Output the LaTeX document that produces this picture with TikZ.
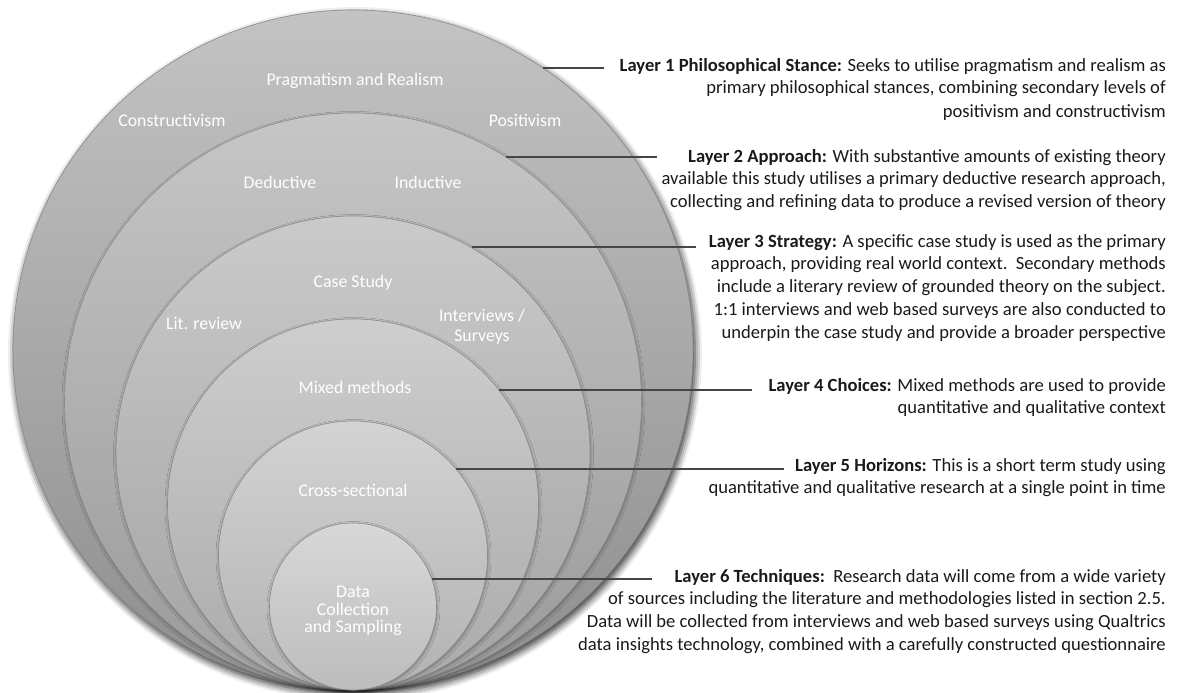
\documentclass[tikz,border=0pt]{standalone}
\usepackage{fontspec}
\setmainfont{Carlito}
\usetikzlibrary{shadows.blur}

% ring shades, outermost to innermost
\definecolor{g1t}{HTML}{C3C3C3}\definecolor{g1b}{HTML}{8E8E8E}
\definecolor{g2t}{HTML}{C6C6C6}\definecolor{g2b}{HTML}{9A9A9A}
\definecolor{g3t}{HTML}{CACACA}\definecolor{g3b}{HTML}{A3A3A3}
\definecolor{g4t}{HTML}{CECECE}\definecolor{g4b}{HTML}{AAAAAA}
\definecolor{g5t}{HTML}{D3D3D3}\definecolor{g5b}{HTML}{B2B2B2}
\definecolor{g6t}{HTML}{D8D8D8}\definecolor{g6b}{HTML}{BCBCBC}
\definecolor{ringedge}{HTML}{8A8A8A}
\definecolor{leadgray}{HTML}{454545}
\definecolor{desctext}{HTML}{1A1A1A}

\begin{document}
\begin{tikzpicture}[x=1pt,y=-1pt,
  ring/.style={circle, inner sep=0pt, draw=ringedge, line width=0.6pt,
    blur shadow={shadow xshift=0.5pt, shadow yshift=-1.5pt,
                 shadow blur radius=3pt, shadow opacity=35}},
  ringlabel/.style={text=white, font=\fontsize{17.8}{19}\selectfont,
    align=center, inner sep=0pt},
  desc/.style={anchor=north east, align=right, inner sep=0pt,
    text=desctext, font=\fontsize{18.6}{22.8}\selectfont},
  leader/.style={draw=leadgray, line width=2pt}]

\useasboundingbox (0,0) rectangle (1180,693);

% nested rings, all touching at the bottom
\node[ring, minimum size=680pt, top color=g1t, bottom color=g1b,
  blur shadow={shadow xshift=2pt, shadow yshift=-4pt,
               shadow blur radius=7pt, shadow opacity=50}] (c1) at (353,350) {};
\node[ring, minimum size=577pt, top color=g2t, bottom color=g2b] (c2) at (353,401.5) {};
\node[ring, minimum size=474pt, top color=g3t, bottom color=g3b] (c3) at (353,453) {};
\node[ring, minimum size=371pt, top color=g4t, bottom color=g4b] (c4) at (353,504.5) {};
\node[ring, minimum size=269pt, top color=g5t, bottom color=g5b] (c5) at (353,555.5) {};
\node[ring, minimum size=167pt, top color=g6t, bottom color=g6b] (c6) at (353,606.5) {};

% ring labels
\node[ringlabel] (pr)  at (355,81)  {Pragmatism and Realism};
\node[ringlabel] (con) at (172,120) {Constructivism};
\node[ringlabel] (pos) at (525,120) {Positivism};
\node[ringlabel] (ded) at (280,182) {Deductive};
\node[ringlabel] (ind) at (428,182) {Inductive};
\node[ringlabel] (cs)  at (353,283) {Case Study};
\node[ringlabel] (lit) at (204,323) {Lit. review};
\node[ringlabel, font=\fontsize{17.8}{20}\selectfont] (ivs) at (482,327) {Interviews /\\Surveys};
\node[ringlabel] (mm)  at (355,387) {Mixed methods};
\node[ringlabel] (xs)  at (353,490) {Cross-sectional};
\node[ringlabel, font=\fontsize{17.8}{17.5}\selectfont] (dcs) at (353,611) {Data\\Collection\\and Sampling};

% layer descriptions
\node[desc] (t1) at (1166,55) {\strut\textbf{Layer 1 Philosophical Stance:} Seeks to utilise pragmatism and realism as\\
  primary philosophical stances, combining secondary levels of\\[1pt]
  positivism and constructivism};
\node[desc] (t2) at (1166,146) {\strut\textbf{Layer 2 Approach:} With substantive amounts of existing theory\\
  available this study utilises a primary deductive research approach,\\
  collecting and refining data to produce a revised version of theory};
\node[desc] (t3) at (1166,231) {\strut\textbf{Layer 3 Strategy:} A specific case study is used as the primary\\
  approach, providing real world context.\ \ Secondary methods\\
  include a literary review of grounded theory on the subject.\\
  1:1 interviews and web based surveys are also conducted to\\
  underpin the case study and provide a broader perspective};
\node[desc] (t4) at (1166,375) {\strut\textbf{Layer 4 Choices:} Mixed methods are used to provide\\
  quantitative and qualitative context};
\node[desc] (t5) at (1166,455) {\strut\textbf{Layer 5 Horizons:} This is a short term study using\\
  quantitative and qualitative research at a single point in time};
\node[desc] (t6) at (1166,566) {\strut\textbf{Layer 6 Techniques:}\ \ Research data will come from a wide variety\\
  of sources including the literature and methodologies listed in section 2.5.\\
  Data will be collected from interviews and web based surveys using Qualtrics\\
  data insights technology, combined with a carefully constructed questionnaire};

% free ends of the leader lines
\coordinate (e1) at (604,66);
\coordinate (e2) at (657,156);
\coordinate (e3) at (696,246);
\coordinate (e4) at (752,388);
\coordinate (e5) at (784,468);
\coordinate (e6) at (652,579);

% leaders from each ring to its description
\draw[leader] (c1.56.64) -- (c1.56.64 -| e1);
\draw[leader] (c2.58.31) -- (c2.58.31 -| e2);
\draw[leader] (c3.60.86) -- (c3.60.86 -| e3);
\draw[leader] (c4.38.90) -- (c4.38.90 -| e4);
\draw[leader] (c5.40.59) -- (c5.40.59 -| e5);
\draw[leader] (c6.19.23) -- (c6.19.23 -| e6);
\end{tikzpicture}
\end{document}
